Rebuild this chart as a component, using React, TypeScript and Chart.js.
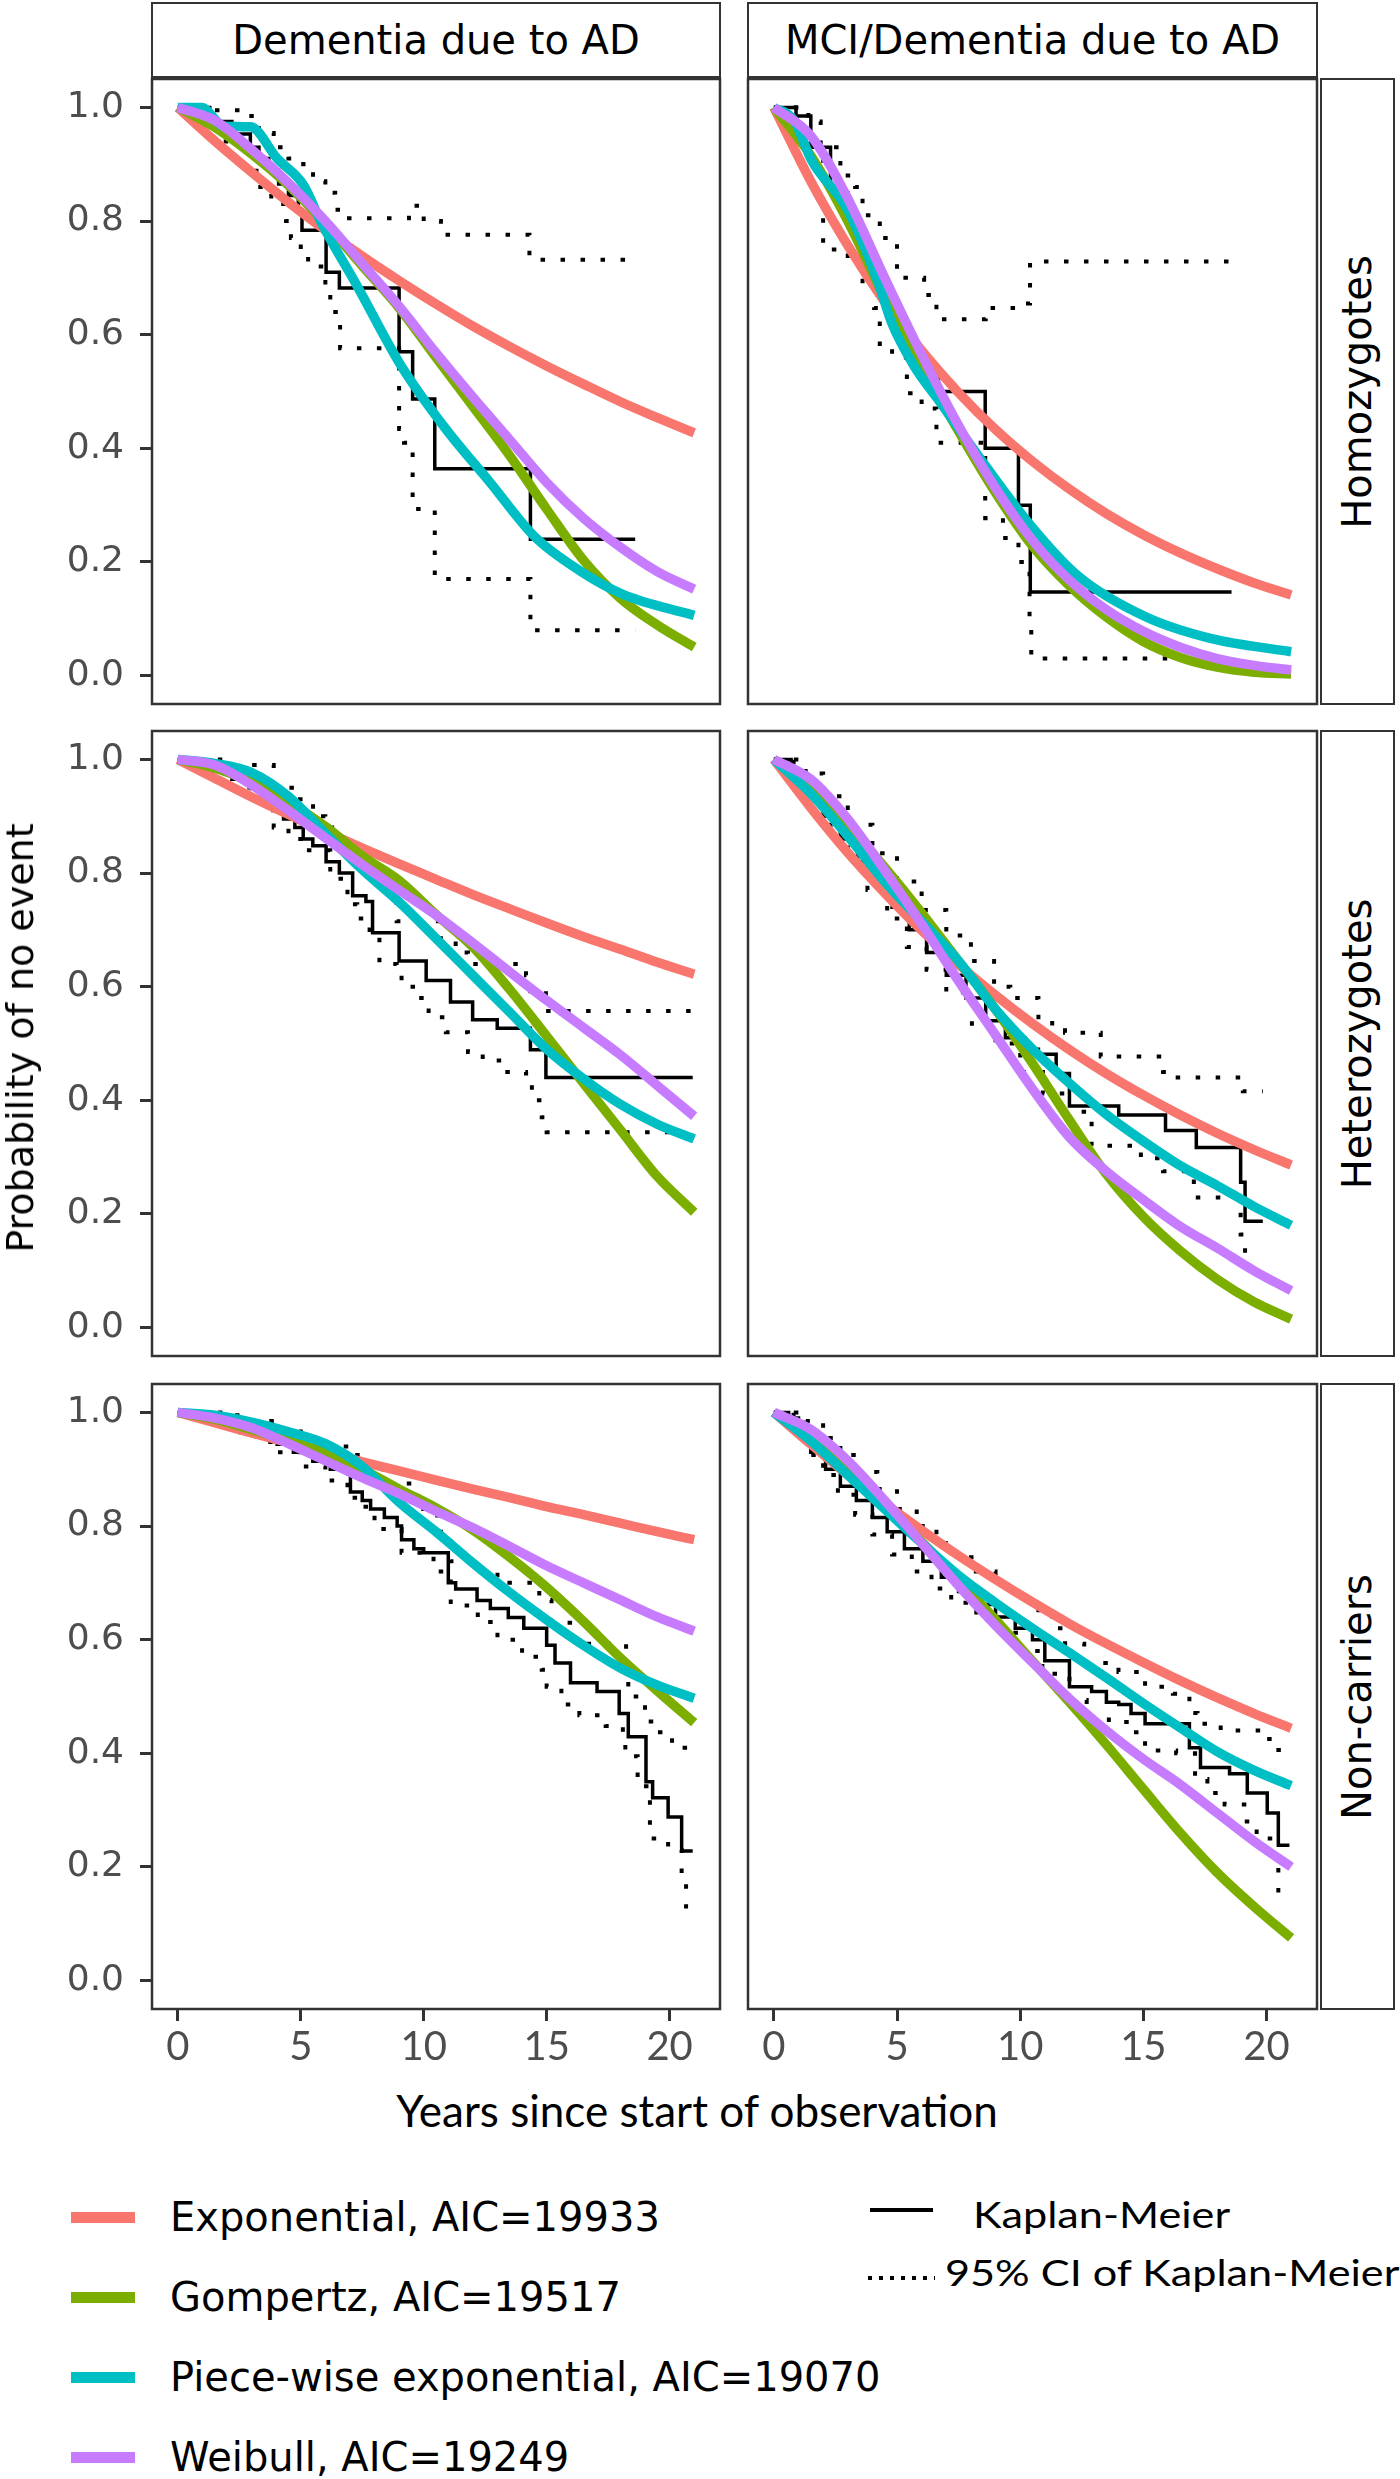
import React, { useEffect, useRef } from "react";
import { Chart, registerables } from "chart.js";

Chart.register(...registerables);

// ---------------- labels ----------------
const COLUMN_LABELS = ["Dementia due to AD", "MCI/Dementia due to AD"];
const ROW_LABELS = ["Homozygotes", "Heterozygotes", "Non-carriers"];
const MODEL_LABELS = [
  "Exponential, AIC=19933",
  "Gompertz, AIC=19517",
  "Piece-wise exponential, AIC=19070",
  "Weibull, AIC=19249",
];
const KM_LABELS = ["Kaplan-Meier", "95% CI of Kaplan-Meier"];
const X_TITLE = "Years since start of observation";
const Y_TITLE = "Probability of no event";
const X_TICKS = [0, 5, 10, 15, 20];
const Y_TICKS = [0, 0.2, 0.4, 0.6, 0.8, 1.0];
const MODEL_COLORS = ["#F8766D", "#7CAE00", "#00BFC4", "#C77CFF"];

// common time grid for the fitted curves
const FIT_YEARS = [0, 1.5, 3, 4.5, 6, 7.5, 9, 10.5, 12, 13.5, 15, 16.5, 18, 19.5, 21];

// ---------- Dementia due to AD / Homozygotes ----------
const EXP_DEM_HOMO = [1, 0.941, 0.886, 0.833, 0.784, 0.738, 0.695, 0.654, 0.615, 0.579, 0.545, 0.513, 0.482, 0.454, 0.427];
const GOM_DEM_HOMO = [1, 0.965, 0.918, 0.863, 0.796, 0.721, 0.647, 0.56, 0.474, 0.387, 0.293, 0.203, 0.136, 0.089, 0.05];
const WEI_DEM_HOMO = [1, 0.977, 0.926, 0.867, 0.8, 0.725, 0.65, 0.568, 0.49, 0.415, 0.34, 0.277, 0.226, 0.183, 0.152];
const PWE_DEM_HOMO_T = [0, 0.97, 1.87, 2.95, 4.04, 5.12, 5.85, 7.29, 9.1, 10.9, 12.7, 14.5, 16.3, 18.1, 21];
const PWE_DEM_HOMO = [1, 1, 0.967, 0.966, 0.91, 0.863, 0.796, 0.686, 0.544, 0.434, 0.34, 0.245, 0.186, 0.143, 0.106];
const KM_DEM_HOMO_T = [0, 1.3, 2.2, 2.95, 3.3, 3.7, 4.1, 4.5, 4.9, 5.05, 6.03, 6.57, 9.0, 9.55, 10.45, 14.34, 18.6];
const KM_DEM_HOMO = [1, 0.975, 0.953, 0.93, 0.91, 0.89, 0.865, 0.845, 0.82, 0.784, 0.71, 0.682, 0.57, 0.487, 0.364, 0.24, 0.24];
const UP_DEM_HOMO_T = [0, 1.5, 2.9, 3.3, 3.9, 4.5, 5.1, 5.5, 6.0, 6.4, 6.75, 9.4, 10.0, 10.7, 14.3, 18.6];
const UP_DEM_HOMO = [1, 0.995, 0.985, 0.955, 0.93, 0.91, 0.9, 0.87, 0.85, 0.82, 0.805, 0.827, 0.8, 0.776, 0.732, 0.732];
const LO_DEM_HOMO_T = [0, 1.3, 2.2, 3.2, 3.8, 4.4, 4.6, 5.0, 5.3, 6.0, 6.2, 6.6, 9.0, 9.2, 9.55, 10.45, 14.34, 18.6];
const LO_DEM_HOMO = [1, 0.94, 0.9, 0.86, 0.83, 0.8, 0.77, 0.75, 0.72, 0.68, 0.64, 0.576, 0.434, 0.41, 0.293, 0.17, 0.08, 0.08];

// ---------- MCI/Dementia due to AD / Homozygotes ----------
const EXP_MCI_HOMO = [1, 0.87, 0.757, 0.658, 0.572, 0.498, 0.433, 0.377, 0.328, 0.285, 0.248, 0.216, 0.188, 0.163, 0.142];
const GOM_MCI_HOMO = [1, 0.915, 0.8, 0.665, 0.545, 0.43, 0.322, 0.228, 0.158, 0.103, 0.06, 0.032, 0.015, 0.006, 0.003];
const WEI_MCI_HOMO = [1, 0.95, 0.84, 0.7, 0.565, 0.44, 0.33, 0.238, 0.168, 0.116, 0.078, 0.05, 0.03, 0.018, 0.01];
const PWE_MCI_HOMO_T = [0, 0.82, 1.54, 2.99, 4.25, 4.79, 5.69, 6.77, 8.58, 10.47, 12.36, 15.07, 17.77, 21];
const PWE_MCI_HOMO = [1, 0.977, 0.906, 0.82, 0.69, 0.62, 0.545, 0.48, 0.37, 0.262, 0.175, 0.104, 0.065, 0.042];
const KM_MCI_HOMO_T = [0, 0.9, 1.5, 2.3, 3, 3.6, 4.2, 4.8, 5.4, 6.0, 6.68, 8.58, 9.93, 10.41, 18.58];
const KM_MCI_HOMO = [1, 0.985, 0.93, 0.85, 0.79, 0.73, 0.67, 0.62, 0.575, 0.535, 0.5, 0.4, 0.3, 0.147, 0.147];
const UP_MCI_HOMO_T = [0, 1.0, 1.4, 1.9, 2.7, 3.3, 3.6, 4.3, 5.0, 6.1, 6.6, 8.6, 10.0, 10.4, 18.58];
const UP_MCI_HOMO = [1, 0.995, 0.975, 0.93, 0.88, 0.86, 0.81, 0.77, 0.7, 0.67, 0.627, 0.647, 0.655, 0.729, 0.729];
const LO_MCI_HOMO_T = [0, 0.9, 1.45, 2.0, 3.0, 3.6, 4.07, 4.3, 4.8, 5.4, 6.0, 6.6, 8.58, 9.3, 9.93, 10.38, 10.45, 16.4];
const LO_MCI_HOMO = [1, 0.96, 0.92, 0.75, 0.733, 0.68, 0.647, 0.576, 0.56, 0.497, 0.47, 0.41, 0.277, 0.242, 0.2, 0.089, 0.03, 0.03];

// ---------- Dementia due to AD / Heterozygotes ----------
const EXP_DEM_HET = [1, 0.967, 0.934, 0.903, 0.873, 0.844, 0.816, 0.789, 0.762, 0.737, 0.712, 0.688, 0.666, 0.643, 0.622];
const GOM_DEM_HET = [1, 0.985, 0.96, 0.925, 0.882, 0.83, 0.787, 0.727, 0.67, 0.595, 0.513, 0.43, 0.348, 0.266, 0.203];
const WEI_DEM_HET = [1, 0.99, 0.955, 0.91, 0.862, 0.815, 0.77, 0.726, 0.677, 0.626, 0.576, 0.528, 0.48, 0.426, 0.372];
const PWE_DEM_HET = [1, 0.993, 0.977, 0.935, 0.87, 0.806, 0.749, 0.685, 0.62, 0.555, 0.49, 0.438, 0.393, 0.358, 0.332];
const KM_DEM_HET_T = [0, 0.8, 1.5, 2.2, 2.9, 3.4, 3.86, 4.3, 4.76, 5.1, 5.49, 6.03, 6.57, 7.11, 7.65, 7.92, 9.0, 10.1, 11.09, 11.99, 12.99, 14.34, 14.97, 20.94];
const KM_DEM_HET = [1, 0.99, 0.98, 0.965, 0.95, 0.93, 0.91, 0.895, 0.88, 0.86, 0.848, 0.82, 0.8, 0.76, 0.75, 0.695, 0.645, 0.611, 0.573, 0.542, 0.527, 0.489, 0.44, 0.44];
const UP_DEM_HET_T = [0, 2, 3.9, 4.8, 5.5, 6.0, 6.6, 7.1, 7.9, 8.7, 8.9, 10.7, 11.3, 11.8, 14.16, 14.34, 14.97, 20.94];
const UP_DEM_HET = [1, 0.99, 0.95, 0.93, 0.9, 0.88, 0.86, 0.84, 0.8, 0.76, 0.715, 0.676, 0.66, 0.64, 0.62, 0.592, 0.557, 0.557];
const LO_DEM_HET_T = [0, 1, 2, 3, 3.9, 4.5, 5.1, 6.2, 6.9, 7.3, 7.8, 8.2, 8.9, 9.1, 9.8, 10.2, 10.9, 11.8, 12.4, 13.4, 14.16, 14.4, 14.8, 15.0, 20.0];
const LO_DEM_HET = [1, 0.975, 0.95, 0.93, 0.88, 0.86, 0.84, 0.79, 0.745, 0.72, 0.69, 0.64, 0.622, 0.6, 0.58, 0.546, 0.52, 0.485, 0.47, 0.45, 0.447, 0.4, 0.37, 0.344, 0.344];

// ---------- MCI/Dementia due to AD / Heterozygotes ----------
const EXP_MCI_HET = [1, 0.915, 0.836, 0.765, 0.699, 0.639, 0.585, 0.535, 0.489, 0.447, 0.409, 0.374, 0.342, 0.313, 0.286];
const GOM_MCI_HET = [1, 0.955, 0.885, 0.81, 0.73, 0.645, 0.56, 0.465, 0.365, 0.27, 0.195, 0.135, 0.085, 0.045, 0.015];
const WEI_MCI_HET = [1, 0.965, 0.895, 0.805, 0.71, 0.61, 0.515, 0.42, 0.335, 0.275, 0.225, 0.178, 0.14, 0.1, 0.065];
const PWE_MCI_HET = [1, 0.94, 0.865, 0.785, 0.715, 0.645, 0.56, 0.49, 0.43, 0.375, 0.328, 0.285, 0.25, 0.213, 0.18];
const KM_MCI_HET_T = [0, 0.7, 1.3, 2, 2.7, 3.4, 4.1, 4.8, 5.5, 6.2, 7, 7.8, 8.6, 9.4, 10.2, 10.74, 11.46, 12.0, 14.0, 15.9, 17.15, 18.95, 19.13, 19.85];
const KM_MCI_HET = [1, 0.98, 0.94, 0.9, 0.86, 0.82, 0.78, 0.74, 0.7, 0.66, 0.62, 0.58, 0.54, 0.51, 0.49, 0.481, 0.447, 0.39, 0.374, 0.347, 0.317, 0.256, 0.187, 0.187];
const UP_MCI_HET_T = [0, 1, 2, 3, 4, 5, 6, 7, 8, 8.94, 9.6, 10.74, 11.3, 11.82, 13.27, 15.8, 16.1, 19.04, 19.85];
const UP_MCI_HET = [1, 0.975, 0.935, 0.885, 0.835, 0.785, 0.735, 0.69, 0.645, 0.6, 0.58, 0.546, 0.531, 0.519, 0.477, 0.45, 0.44, 0.416, 0.416];
const LO_MCI_HET_T = [0, 0.8, 1.5, 2.3, 3, 3.8, 4.6, 5.4, 6.2, 7, 8.04, 9, 10, 10.92, 11.8, 12.9, 14.9, 15.8, 17.05, 18.95, 19.13];
const LO_MCI_HET = [1, 0.95, 0.91, 0.86, 0.82, 0.77, 0.72, 0.67, 0.63, 0.59, 0.53, 0.5, 0.45, 0.412, 0.38, 0.32, 0.298, 0.275, 0.229, 0.164, 0.103];

// ---------- Dementia due to AD / Non-carriers ----------
const EXP_DEM_NON = [1, 0.982, 0.964, 0.947, 0.93, 0.913, 0.897, 0.881, 0.865, 0.85, 0.834, 0.82, 0.805, 0.79, 0.776];
const GOM_DEM_NON = [1, 0.988, 0.97, 0.95, 0.93, 0.9, 0.865, 0.832, 0.793, 0.745, 0.692, 0.632, 0.568, 0.51, 0.454];
const WEI_DEM_NON = [1, 0.99, 0.973, 0.945, 0.915, 0.885, 0.857, 0.826, 0.797, 0.764, 0.73, 0.7, 0.67, 0.64, 0.615];
const PWE_DEM_NON = [1, 0.995, 0.983, 0.966, 0.945, 0.905, 0.842, 0.79, 0.735, 0.683, 0.635, 0.59, 0.55, 0.52, 0.497];
const KM_DEM_NON_T = [0, 0.8, 1.6, 2.4, 3.2, 4.04, 4.7, 5.49, 6.2, 6.93, 7.02, 7.5, 7.84, 8.4, 8.92, 9.1, 9.6, 10.0, 11.0, 11.3, 12.17, 12.71, 13.44, 14.07, 15.0, 15.34, 15.97, 17.05, 17.95, 18.32, 19.04, 19.31, 19.94, 20.49, 20.94];
const KM_DEM_NON = [1, 0.995, 0.988, 0.978, 0.963, 0.944, 0.93, 0.914, 0.9, 0.891, 0.86, 0.845, 0.83, 0.815, 0.8, 0.776, 0.76, 0.753, 0.7, 0.689, 0.669, 0.655, 0.639, 0.62, 0.59, 0.559, 0.524, 0.509, 0.47, 0.429, 0.35, 0.322, 0.288, 0.228, 0.228];
const UP_DEM_NON_T = [0, 1, 2, 3, 4, 5, 6, 7, 7.5, 8.5, 9.5, 10.55, 11.1, 12, 13, 14.7, 15.2, 16.15, 18.23, 18.32, 19.0, 19.5, 20.1, 20.94];
const UP_DEM_NON = [1, 1, 0.995, 0.985, 0.97, 0.955, 0.94, 0.925, 0.9, 0.875, 0.83, 0.79, 0.738, 0.72, 0.7, 0.67, 0.63, 0.593, 0.54, 0.5, 0.456, 0.437, 0.41, 0.41];
const LO_DEM_NON_T = [0, 0.8, 1.6, 2.4, 3.2, 4, 5, 6, 6.9, 7.3, 8, 9.1, 10.4, 11.1, 12.2, 13, 14, 14.8, 15, 15.6, 16.33, 17.4, 18.1, 18.2, 18.7, 19.2, 19.94, 20.49, 20.67];
const LO_DEM_NON = [1, 0.99, 0.98, 0.965, 0.948, 0.93, 0.905, 0.88, 0.85, 0.834, 0.795, 0.753, 0.72, 0.66, 0.631, 0.6, 0.57, 0.547, 0.517, 0.486, 0.467, 0.448, 0.432, 0.395, 0.342, 0.25, 0.23, 0.18, 0.127];

// ---------- MCI/Dementia due to AD / Non-carriers ----------
const EXP_MCI_NON = [1, 0.944, 0.89, 0.84, 0.793, 0.748, 0.706, 0.666, 0.628, 0.593, 0.56, 0.528, 0.498, 0.47, 0.444];
const GOM_MCI_NON = [1, 0.955, 0.895, 0.835, 0.772, 0.705, 0.635, 0.562, 0.49, 0.415, 0.337, 0.26, 0.19, 0.13, 0.075];
const WEI_MCI_NON = [1, 0.97, 0.915, 0.845, 0.77, 0.695, 0.625, 0.56, 0.496, 0.44, 0.39, 0.345, 0.295, 0.245, 0.2];
const PWE_MCI_NON = [1, 0.95, 0.89, 0.83, 0.77, 0.713, 0.665, 0.62, 0.577, 0.533, 0.488, 0.445, 0.403, 0.37, 0.343];
const KM_MCI_NON_T = [0, 0.6, 1, 1.5, 2.1, 2.7, 3.35, 4, 4.6, 5.3, 6.05, 6.8, 7.5, 8.2, 9, 9.8, 10.5, 11.0, 12.0, 12.9, 13.5, 14, 14.5, 15.07, 16.87, 17.32, 18.5, 19.22, 20.03, 20.48, 20.93];
const KM_MCI_NON = [1, 0.99, 0.96, 0.93, 0.9, 0.87, 0.845, 0.815, 0.79, 0.76, 0.738, 0.71, 0.685, 0.662, 0.64, 0.62, 0.6, 0.563, 0.517, 0.509, 0.49, 0.486, 0.47, 0.452, 0.41, 0.375, 0.364, 0.33, 0.295, 0.238, 0.238];
const UP_MCI_NON_T = [0, 0.7, 1.3, 2, 2.7, 3.4, 4.2, 5, 5.8, 6.6, 7.4, 8.2, 9, 9.8, 10.74, 11.3, 11.82, 12.6, 13.99, 15.07, 16.2, 16.87, 17.2, 18.14, 19.76, 20.39, 20.7];
const UP_MCI_NON = [1, 1, 0.985, 0.955, 0.925, 0.895, 0.865, 0.83, 0.8, 0.77, 0.745, 0.72, 0.695, 0.67, 0.646, 0.62, 0.593, 0.559, 0.543, 0.517, 0.505, 0.471, 0.452, 0.44, 0.425, 0.406, 0.406];
const LO_MCI_NON_T = [0, 0.8, 1.4, 2, 2.6, 3.3, 4, 4.8, 5.6, 6.4, 7.2, 8.22, 9.1, 10, 10.9, 12.0, 12.7, 13.6, 14.5, 15.07, 16.33, 17.1, 17.6, 18.3, 19.2, 19.6, 20.3, 20.48];
const LO_MCI_NON = [1, 0.97, 0.925, 0.89, 0.855, 0.82, 0.785, 0.75, 0.72, 0.69, 0.665, 0.639, 0.612, 0.58, 0.54, 0.494, 0.465, 0.455, 0.437, 0.405, 0.4, 0.355, 0.33, 0.31, 0.28, 0.25, 0.2, 0.135];

// panel table built from the arrays above
const PANELS = [
  { row: 0, col: 0, exp: EXP_DEM_HOMO, gom: GOM_DEM_HOMO, wei: WEI_DEM_HOMO, pweT: PWE_DEM_HOMO_T, pwe: PWE_DEM_HOMO, kmT: KM_DEM_HOMO_T, km: KM_DEM_HOMO, upT: UP_DEM_HOMO_T, up: UP_DEM_HOMO, loT: LO_DEM_HOMO_T, lo: LO_DEM_HOMO },
  { row: 0, col: 1, exp: EXP_MCI_HOMO, gom: GOM_MCI_HOMO, wei: WEI_MCI_HOMO, pweT: PWE_MCI_HOMO_T, pwe: PWE_MCI_HOMO, kmT: KM_MCI_HOMO_T, km: KM_MCI_HOMO, upT: UP_MCI_HOMO_T, up: UP_MCI_HOMO, loT: LO_MCI_HOMO_T, lo: LO_MCI_HOMO },
  { row: 1, col: 0, exp: EXP_DEM_HET, gom: GOM_DEM_HET, wei: WEI_DEM_HET, pweT: FIT_YEARS, pwe: PWE_DEM_HET, kmT: KM_DEM_HET_T, km: KM_DEM_HET, upT: UP_DEM_HET_T, up: UP_DEM_HET, loT: LO_DEM_HET_T, lo: LO_DEM_HET },
  { row: 1, col: 1, exp: EXP_MCI_HET, gom: GOM_MCI_HET, wei: WEI_MCI_HET, pweT: FIT_YEARS, pwe: PWE_MCI_HET, kmT: KM_MCI_HET_T, km: KM_MCI_HET, upT: UP_MCI_HET_T, up: UP_MCI_HET, loT: LO_MCI_HET_T, lo: LO_MCI_HET },
  { row: 2, col: 0, exp: EXP_DEM_NON, gom: GOM_DEM_NON, wei: WEI_DEM_NON, pweT: FIT_YEARS, pwe: PWE_DEM_NON, kmT: KM_DEM_NON_T, km: KM_DEM_NON, upT: UP_DEM_NON_T, up: UP_DEM_NON, loT: LO_DEM_NON_T, lo: LO_DEM_NON },
  { row: 2, col: 1, exp: EXP_MCI_NON, gom: GOM_MCI_NON, wei: WEI_MCI_NON, pweT: FIT_YEARS, pwe: PWE_MCI_NON, kmT: KM_MCI_NON_T, km: KM_MCI_NON, upT: UP_MCI_NON_T, up: UP_MCI_NON, loT: LO_MCI_NON_T, lo: LO_MCI_NON },
];

// ---------------- geometry / style ----------------
const PANEL_LEFT = [152, 748];
const PANEL_WIDTH = [568, 569];
const PANEL_TOP = [79, 731, 1384];
const PANEL_HEIGHT = 625;
const PAD = 4;
const X_AXIS_H = 70;
const DEJAVU = "'DejaVu Sans', sans-serif";
const LATO = "Lato, sans-serif";

const toXY = (t: number[], s: number[]) => t.map((x, i) => ({ x, y: s[i] }));

const panelBorder = {
  id: "panelBorder",
  afterDraw(chart: any) {
    const { ctx, chartArea } = chart;
    ctx.save();
    ctx.strokeStyle = "#333333";
    ctx.lineWidth = 2.5;
    ctx.strokeRect(chartArea.left, chartArea.top, chartArea.right - chartArea.left, chartArea.bottom - chartArea.top);
    ctx.restore();
  },
};

function Panel({ p }: { p: any }) {
  const ref = useRef<HTMLCanvasElement>(null);
  const isLeft = p.col === 0;
  const isBottom = p.row === 2;
  const L = PANEL_LEFT[p.col];
  const T = PANEL_TOP[p.row];
  const W = PANEL_WIDTH[p.col];
  const cLeft = isLeft ? 0 : L - PAD;
  const cTop = T - PAD;
  const cW = (isLeft ? L : PAD) + W + PAD;
  const cH = PAD + PANEL_HEIGHT + (isBottom ? X_AXIS_H : PAD);

  useEffect(() => {
    // fitted curves are drawn above the Kaplan-Meier steps (lower order = on top)
    const fit = (arr: number[], i: number) => ({
      data: toXY(i === 2 ? p.pweT : FIT_YEARS, arr),
      borderColor: MODEL_COLORS[i],
      borderWidth: 9.5,
      pointRadius: 0,
      fill: false,
      cubicInterpolationMode: "monotone",
      order: 3 - i,
    });
    const step = (t: number[], s: number[], dash: number[], width: number, order: number) => ({
      data: toXY(t, s),
      borderColor: "#000000",
      borderWidth: width,
      borderDash: dash,
      pointRadius: 0,
      fill: false,
      stepped: "before",
      order,
    });
    const chart = new Chart(ref.current as HTMLCanvasElement, {
      type: "line",
      data: {
        datasets: [
          fit(p.exp, 0),
          fit(p.gom, 1),
          fit(p.pwe, 2),
          fit(p.wei, 3),
          step(p.upT, p.up, [4.5, 15.5], 4, 5),
          step(p.loT, p.lo, [4.5, 15.5], 4, 5),
          step(p.kmT, p.km, [], 3.5, 4),
        ] as any,
      },
      options: {
        animation: false,
        responsive: false,
        maintainAspectRatio: false,
        devicePixelRatio: 1,
        events: [],
        layout: {
          autoPadding: false,
          padding: { left: isLeft ? 0 : PAD, right: PAD, top: PAD, bottom: isBottom ? 0 : PAD },
        },
        plugins: { legend: { display: false }, tooltip: { enabled: false } },
        scales: {
          x: {
            type: "linear",
            min: -1.05,
            max: 22.05,
            display: isBottom,
            afterBuildTicks: (s: any) => {
              s.ticks = X_TICKS.map((v) => ({ value: v }));
            },
            afterFit: (s: any) => {
              if (isBottom) {
                s.height = X_AXIS_H;
                s.paddingLeft = 0;
                s.paddingRight = 0;
              }
            },
            grid: { display: true, drawOnChartArea: false, drawTicks: true, tickLength: 12, tickWidth: 3, tickColor: "#333333" },
            border: { display: false },
            ticks: {
              padding: 2,
              autoSkip: false,
              maxRotation: 0,
              color: "#4D4D4D",
              font: { family: LATO, size: 40 },
              callback: (v: any) => String(v),
            },
          },
          y: {
            type: "linear",
            min: -0.05,
            max: 1.05,
            display: isLeft,
            afterBuildTicks: (s: any) => {
              s.ticks = Y_TICKS.map((v) => ({ value: v }));
            },
            afterFit: (s: any) => {
              if (isLeft) {
                s.width = L;
                s.paddingTop = 0;
                s.paddingBottom = 0;
              }
            },
            grid: { display: true, drawOnChartArea: false, drawTicks: true, tickLength: 12, tickWidth: 3, tickColor: "#333333" },
            border: { display: false },
            ticks: {
              padding: 16,
              color: "#4D4D4D",
              font: { family: DEJAVU, size: 36 },
              callback: (v: any) => Number(v).toFixed(1),
            },
          },
        },
      } as any,
      plugins: [panelBorder],
    });
    return () => chart.destroy();
  }, []);

  return (
    <canvas
      ref={ref}
      width={cW}
      height={cH}
      style={{ position: "absolute", left: cLeft, top: cTop, width: cW, height: cH }}
    />
  );
}

const textStyle = (family: string, size: number): React.CSSProperties => ({
  position: "absolute",
  fontFamily: family,
  fontSize: size,
  lineHeight: 1,
  whiteSpace: "nowrap",
  color: "#000",
});

export default function App() {
  const legendRowsY = [2217, 2297, 2377, 2457];
  return (
    <div style={{ position: "absolute", left: 0, top: 0, width: 1400, height: 2479, background: "#fff", overflow: "hidden" }}>
      {/* column strips */}
      {COLUMN_LABELS.map((lab, c) => (
        <div key={"cs" + c}>
          <div
            style={{
              position: "absolute",
              left: PANEL_LEFT[c] - 1,
              top: 2,
              width: PANEL_WIDTH[c] + 2,
              height: 76,
              boxSizing: "border-box",
              border: "2px solid #333333",
              background: "#fff",
            }}
          />
          <div style={{ ...textStyle(DEJAVU, 40), left: PANEL_LEFT[c] + PANEL_WIDTH[c] / 2, top: 40, transform: "translate(-50%, -50%)" }}>
            {lab}
          </div>
        </div>
      ))}
      {/* row strips */}
      {ROW_LABELS.map((lab, r) => (
        <div key={"rs" + r}>
          <div
            style={{
              position: "absolute",
              left: 1320,
              top: PANEL_TOP[r] - 1,
              width: 75,
              height: PANEL_HEIGHT + 2,
              boxSizing: "border-box",
              border: "2px solid #333333",
              background: "#fff",
            }}
          />
          <div
            style={{
              ...textStyle(DEJAVU, 40),
              left: 1357,
              top: PANEL_TOP[r] + PANEL_HEIGHT / 2,
              transform: "translate(-50%, -50%) rotate(-90deg)",
            }}
          >
            {lab}
          </div>
        </div>
      ))}
      {/* panels */}
      {PANELS.map((p, i) => (
        <Panel key={"p" + i} p={p} />
      ))}
      {/* axis titles */}
      <div style={{ ...textStyle(DEJAVU, 38), left: 20, top: 1038, transform: "translate(-50%, -50%) rotate(-90deg)" }}>{Y_TITLE}</div>
      <div style={{ ...textStyle(LATO, 44), left: 697, top: 2110, transform: "translate(-50%, -50%)" }}>{X_TITLE}</div>
      {/* legend: models */}
      {MODEL_LABELS.map((lab, i) => (
        <div key={"lg" + i}>
          <div style={{ position: "absolute", left: 71, top: legendRowsY[i] - 5.5, width: 64, height: 11, background: MODEL_COLORS[i] }} />
          <div style={{ ...textStyle(DEJAVU, 40), left: 170, top: legendRowsY[i], transform: "translate(0, -50%)" }}>{lab}</div>
        </div>
      ))}
      {/* legend: Kaplan-Meier */}
      <div style={{ position: "absolute", left: 870, top: 2208, width: 63, height: 4, background: "#000" }} />
      <div style={{ ...textStyle(LATO, 36), left: 973, top: 2214, transformOrigin: "0 50%", transform: "translate(0, -50%) scaleX(1.2)" }}>
        {KM_LABELS[0]}
      </div>
      <div
        style={{
          position: "absolute",
          left: 868,
          top: 2276,
          width: 67,
          height: 4,
          background: "repeating-linear-gradient(to right, #000 0px, #000 4px, transparent 4px, transparent 11px)",
        }}
      />
      <div style={{ ...textStyle(LATO, 36), left: 945, top: 2272, transformOrigin: "0 50%", transform: "translate(0, -50%) scaleX(1.2)" }}>
        {KM_LABELS[1]}
      </div>
    </div>
  );
}
